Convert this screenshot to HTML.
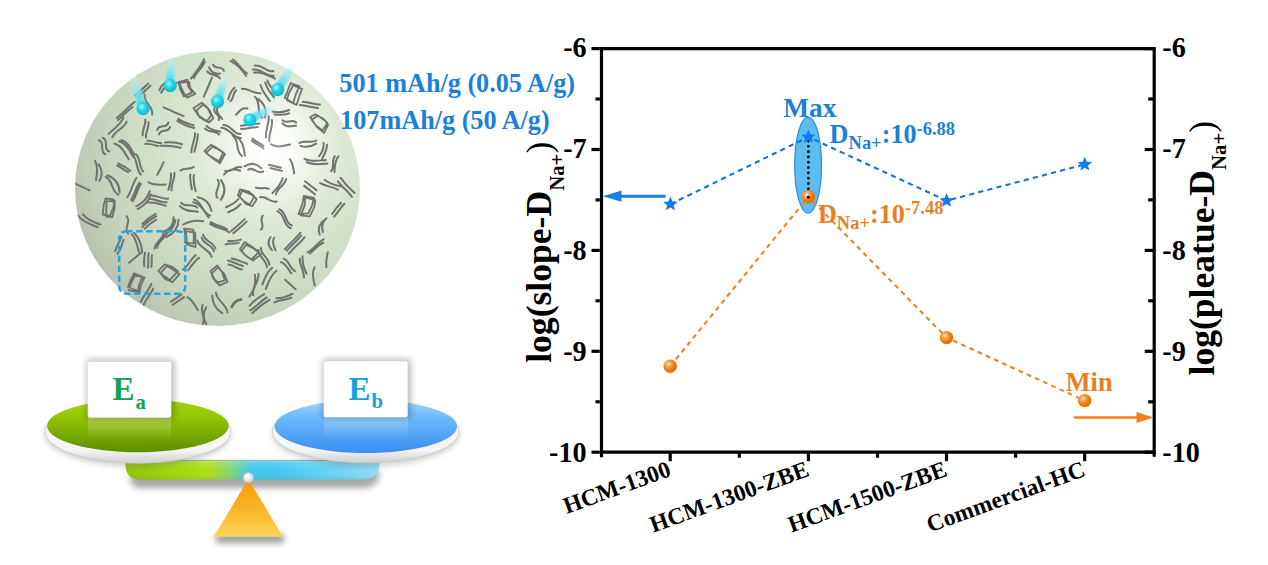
<!DOCTYPE html>
<html><head><meta charset="utf-8"><style>
html,body{margin:0;padding:0;background:#fff;}
body{width:1268px;height:565px;overflow:hidden;font-family:"Liberation Serif",serif;}
svg{display:block;}
</style></head><body>
<svg width="1268" height="565" viewBox="0 0 1268 565">
<defs>
<radialGradient id="sph" gradientUnits="userSpaceOnUse" cx="268" cy="150" r="232" fx="270" fy="147">
<stop offset="0" stop-color="#ffffff"/><stop offset="0.1" stop-color="#fbfdf9"/><stop offset="0.2" stop-color="#ebf3e5"/><stop offset="0.32" stop-color="#dde9d6"/><stop offset="0.5" stop-color="#d2e1ca"/><stop offset="0.7" stop-color="#c7d5bf"/><stop offset="0.88" stop-color="#b8c3af"/><stop offset="1" stop-color="#a8b2a0"/></radialGradient>
<radialGradient id="sphhl" gradientUnits="userSpaceOnUse" cx="268" cy="150" r="40"><stop offset="0" stop-color="#fff" stop-opacity="0.35"/><stop offset="0.4" stop-color="#fff" stop-opacity="0.12"/><stop offset="1" stop-color="#fff" stop-opacity="0"/></radialGradient>
<clipPath id="sphclip"><ellipse cx="217.5" cy="188.5" rx="142.5" ry="137.5"/></clipPath>
<radialGradient id="cyb" cx="0.4" cy="0.35" r="0.65"><stop offset="0" stop-color="#9ff6ff"/><stop offset="0.45" stop-color="#25d5e6"/><stop offset="1" stop-color="#10b8cf"/></radialGradient>
<radialGradient id="ob" cx="0.38" cy="0.35" r="0.7"><stop offset="0" stop-color="#fff3e0"/><stop offset="0.25" stop-color="#fba75a"/><stop offset="0.6" stop-color="#f07a12"/><stop offset="1" stop-color="#e06a08"/></radialGradient>
<linearGradient id="grg" x1="0" y1="0" x2="0" y2="1"><stop offset="0" stop-color="#a6d414"/><stop offset="0.3" stop-color="#96c804"/><stop offset="1" stop-color="#5c8e00"/></linearGradient>
<linearGradient id="blg" x1="0" y1="0" x2="0" y2="1"><stop offset="0" stop-color="#a2d8ff"/><stop offset="0.35" stop-color="#6ab8fb"/><stop offset="1" stop-color="#3a8ef0"/></linearGradient>
<linearGradient id="rim" x1="0" y1="0" x2="0" y2="1"><stop offset="0" stop-color="#ffffff"/><stop offset="0.8" stop-color="#f4f4f4"/><stop offset="1" stop-color="#cfcfcf"/></linearGradient>
<linearGradient id="refl" x1="0" y1="0" x2="0" y2="1"><stop offset="0" stop-color="#fff" stop-opacity="0.28"/><stop offset="1" stop-color="#fff" stop-opacity="0"/></linearGradient>
<linearGradient id="barg" gradientUnits="userSpaceOnUse" x1="126" y1="0" x2="379" y2="0"><stop offset="0" stop-color="#90c60e"/><stop offset="0.22" stop-color="#a4d80c"/><stop offset="0.33" stop-color="#aede1c"/><stop offset="0.41" stop-color="#84d870"/><stop offset="0.49" stop-color="#46c8ea"/><stop offset="0.6" stop-color="#44c8f2"/><stop offset="0.85" stop-color="#74d4f4"/><stop offset="1" stop-color="#98ddf6"/></linearGradient>
<linearGradient id="barv" x1="0" y1="0" x2="0" y2="1"><stop offset="0" stop-color="#fff" stop-opacity="0.5"/><stop offset="0.12" stop-color="#fff" stop-opacity="0.15"/><stop offset="0.5" stop-color="#fff" stop-opacity="0"/><stop offset="1" stop-color="#000" stop-opacity="0.06"/></linearGradient>
<linearGradient id="trig" x1="0" y1="0" x2="0" y2="1"><stop offset="0" stop-color="#f39c00"/><stop offset="0.5" stop-color="#f8b425"/><stop offset="1" stop-color="#ffd45a"/></linearGradient>
<radialGradient id="piv" cx="0.4" cy="0.35" r="0.7"><stop offset="0" stop-color="#ffffff"/><stop offset="1" stop-color="#cfcfcf"/></radialGradient>
<filter id="blur3" x="-20%" y="-50%" width="140%" height="200%"><feGaussianBlur stdDeviation="3"/></filter>
<filter id="blur1" x="-50%" y="-50%" width="200%" height="200%"><feGaussianBlur stdDeviation="1"/></filter>
<filter id="blur4" x="-30%" y="-30%" width="160%" height="160%"><feGaussianBlur stdDeviation="3.5"/></filter>
<filter id="blur2" x="-20%" y="-50%" width="140%" height="200%"><feGaussianBlur stdDeviation="2"/></filter>
</defs>
<rect width="1268" height="565" fill="#fff"/>
<ellipse cx="217.5" cy="188.5" rx="142.5" ry="137.5" fill="url(#sph)"/>
<g clip-path="url(#sphclip)" fill="none" stroke="#717170" stroke-width="2.0" stroke-linecap="round" stroke-linejoin="round"><path d="M204.9 61.7C202.6 68.0 196.3 71.7 194.0 78.0M204.0 59.2C200.9 66.5 195.7 72.4 191.0 78.6M213.0 64.6C214.9 69.6 221.9 65.6 223.8 70.7M209.1 67.3C211.1 72.3 214.7 74.4 220.0 73.4M207.3 71.3C209.9 76.7 217.4 73.1 219.9 78.4M232.7 59.6C238.8 62.8 240.8 70.1 246.9 73.3M230.6 61.0C237.1 64.7 242.3 69.7 246.1 76.0M254.9 65.6C262.1 64.0 266.2 72.7 273.4 71.0M253.0 69.6C260.9 68.2 265.8 77.1 273.7 75.7M254.2 72.6C262.1 71.2 268.4 75.6 275.0 78.7M150.5 85.8C146.3 89.7 142.0 93.6 137.7 97.5M148.4 83.6C144.0 87.6 139.7 91.6 135.3 95.6M176.9 83.1C169.6 83.0 164.4 86.2 161.2 92.7M173.2 81.7C166.6 81.1 161.9 83.9 159.4 90.1M211.8 77.8C209.3 84.1 206.6 90.5 203.9 96.7M236.2 90.4C232.2 92.8 234.4 98.7 230.4 101.1M234.5 87.8C230.4 90.4 229.8 95.0 228.3 99.1M241.9 88.8C248.6 88.2 253.8 93.9 260.5 93.3M267.4 80.6C268.6 86.4 274.8 89.3 275.9 95.2M265.2 82.4C266.4 88.4 270.5 92.7 274.0 97.4M260.6 85.1C262.0 91.4 266.3 96.0 269.9 101.0M132.6 107.0C127.4 111.0 122.8 115.6 118.0 120.1M134.7 101.8C128.4 106.8 123.1 112.9 116.8 117.9M144.7 94.6C143.1 102.7 153.7 106.4 152.1 114.5M163.7 107.3C170.3 110.3 177.0 113.2 183.6 116.1M217.8 106.1C215.0 111.9 219.4 115.1 222.2 119.0M214.6 108.2C211.7 113.6 221.6 114.6 218.7 120.0M247.5 108.5C241.6 106.9 239.3 111.6 236.0 114.8M258.4 99.1C264.6 103.8 266.8 110.0 265.1 117.6M254.8 96.8C261.4 102.4 255.9 112.3 262.4 117.9M289.0 113.3C284.2 115.5 279.2 114.7 274.2 114.6M289.1 110.0C283.7 112.3 278.2 112.8 272.5 111.5M302.8 101.8C308.6 102.2 314.2 104.1 320.0 104.5M299.9 105.1C306.1 105.6 312.0 107.5 318.1 108.0M126.7 121.8C123.6 128.6 115.3 130.5 112.3 137.3M123.4 117.9C120.3 124.8 114.1 128.9 108.7 133.7M148.5 122.1C149.3 127.6 145.2 132.3 146.0 137.7M145.2 119.8C146.0 125.3 141.9 129.9 142.7 135.4M170.0 126.9C169.1 133.4 160.0 128.0 159.0 134.5M168.3 122.5C167.3 129.0 158.2 123.7 157.1 130.2M178.2 118.9C182.8 122.3 188.3 123.6 193.6 125.4M177.4 120.9C182.5 124.4 188.2 126.7 194.3 127.9M206.5 125.9C210.1 130.2 215.4 130.5 220.3 131.7M205.1 128.6C208.7 133.0 215.4 130.1 219.0 134.5M223.5 125.1C231.0 124.6 233.1 134.5 240.6 134.0M221.1 127.7C229.5 127.6 232.5 138.0 240.9 137.9M257.6 127.1C252.1 127.4 246.6 128.7 241.1 129.0M259.4 123.6C253.2 124.1 247.0 124.8 240.9 125.8M271.9 119.9C273.3 127.3 268.0 134.0 269.4 141.4M268.6 116.2C269.9 123.5 264.7 130.1 266.1 137.5M282.4 120.2C286.3 124.8 292.2 118.0 296.1 122.6M282.5 123.4C286.3 128.0 291.3 126.1 296.0 125.8M102.8 137.8C109.4 140.3 102.5 149.0 109.1 151.5M99.0 140.3C105.6 142.8 98.7 151.6 105.3 154.1M121.2 140.0C128.5 142.2 130.8 148.9 134.3 154.5M119.2 141.3C126.9 143.9 129.6 151.0 133.5 157.0M114.4 143.5C122.1 146.1 124.8 153.1 128.7 159.2M147.4 140.7C152.2 140.4 156.5 143.3 161.3 143.0M145.2 143.9C149.7 143.6 153.8 145.0 158.1 146.0M165.1 142.6C170.9 142.0 176.6 142.5 182.1 144.3M160.3 145.8C167.2 145.3 174.0 145.9 180.7 147.8M197.8 134.3C197.8 140.3 195.9 146.0 194.4 151.7M195.1 133.3C195.0 139.8 191.4 145.7 191.4 152.3M236.6 137.0C243.7 141.2 243.5 148.8 245.0 155.6M232.6 135.3C240.1 140.3 234.6 151.0 242.0 156.0M252.7 138.6C255.7 142.0 260.5 142.8 263.5 146.2M251.9 140.5C255.2 144.1 260.2 145.0 263.5 148.6M270.8 144.2C277.2 148.5 283.7 145.6 290.2 144.5M316.2 143.6C311.3 146.9 306.0 147.6 300.4 145.9M316.3 140.5C311.0 143.8 304.7 139.7 299.4 143.0M327.0 144.8C327.0 150.3 324.1 154.8 321.9 159.4M323.6 143.1C323.8 148.1 322.2 152.5 319.0 156.3M98.6 164.2C102.3 169.5 102.6 175.1 99.5 180.8M95.0 160.8C98.7 167.0 96.7 173.6 96.1 180.1M118.3 163.4C122.6 165.5 126.6 167.9 130.4 170.7M117.2 165.5C121.1 167.4 124.4 170.3 128.3 172.2M136.1 154.4C141.3 158.9 138.1 166.9 143.3 171.4M132.6 154.9C138.2 160.3 135.4 169.2 140.9 174.6M163.6 162.1C161.8 166.5 159.4 170.6 157.2 174.8M193.6 166.9C189.8 170.1 184.3 167.4 180.5 170.5M240.1 170.8C234.0 168.4 228.6 169.6 224.1 174.4M241.2 167.3C235.1 164.9 231.4 173.3 225.3 170.9M244.5 166.3C250.6 162.5 256.2 163.1 261.3 168.3M248.1 169.7C253.6 165.7 257.6 175.4 263.1 171.4M268.9 164.7C272.9 165.7 276.9 166.7 280.9 167.7M270.6 168.1C274.4 169.0 278.2 170.0 282.0 170.9M290.0 159.3C293.2 163.4 293.3 168.4 294.1 173.3M304.5 158.8C311.5 162.2 318.7 160.5 325.9 160.0M306.6 162.2C313.4 165.6 320.5 163.9 327.5 163.4M338.4 156.3C334.4 161.0 334.9 166.7 334.4 172.1M334.9 156.2C331.0 160.5 335.1 166.8 331.2 171.2M75.0 183.3C79.7 185.9 84.7 187.9 89.4 190.4M107.4 175.3C115.2 178.3 119.3 184.0 119.6 192.3M105.8 177.0C113.7 180.2 110.5 191.4 118.5 194.6M140.9 183.9C137.1 189.1 136.6 195.9 132.8 201.1M139.2 182.9C135.4 188.1 134.9 194.8 131.1 200.0M136.5 177.8C132.4 183.7 131.5 191.2 127.4 197.2M148.6 182.4C154.0 185.7 160.0 184.7 165.8 184.6M174.4 172.7C175.4 178.9 170.6 184.2 171.6 190.4M170.8 173.6C171.9 179.3 169.7 184.5 168.3 189.9M193.9 175.0C193.3 180.5 193.9 185.9 195.7 191.1M190.3 174.4C189.7 179.5 191.0 184.5 191.9 189.5M221.1 180.1C225.6 186.7 225.5 193.3 220.8 199.8M217.7 179.9C222.2 186.0 212.9 191.9 217.4 198.0M255.9 187.6C260.1 189.1 264.6 187.2 268.8 188.7M286.1 179.0C285.0 185.7 277.0 187.7 275.9 194.4M282.6 177.9C281.5 184.5 276.6 188.5 272.5 193.1M305.0 181.3C308.8 184.3 312.7 187.1 316.5 190.1M304.2 185.9C307.8 188.8 311.5 191.5 315.1 194.3M324.7 180.0C329.6 183.3 335.1 185.4 341.0 186.2M320.2 183.1C325.6 186.6 332.4 186.2 337.7 189.7M340.7 177.9C344.7 183.5 349.3 188.5 354.5 193.1M337.9 181.3C342.1 187.0 347.9 191.1 352.0 196.8M150.7 194.5C148.4 201.2 144.1 206.0 137.7 209.0M149.7 191.4C147.3 198.2 142.8 203.2 136.3 206.3M150.4 195.6C156.7 194.6 161.9 199.5 168.2 198.6M149.4 199.2C155.5 198.3 160.7 203.1 166.8 202.2M147.7 202.6C154.1 201.7 159.9 204.1 165.9 205.8M181.3 202.8C185.4 208.0 192.9 202.6 197.1 207.7M179.9 206.1C184.8 211.5 191.6 210.9 197.9 211.7M197.6 197.2C205.4 198.6 210.0 203.1 211.4 210.9M193.9 199.5C202.6 201.6 201.6 213.5 210.2 215.6M193.2 202.3C201.5 204.1 204.3 211.4 208.5 217.4M240.4 204.1C237.4 208.4 232.6 210.0 228.2 212.3M238.4 199.0C235.3 203.4 230.4 205.0 225.9 207.3M260.1 197.3C266.4 195.6 270.3 203.3 276.7 201.5M344.3 203.8C340.5 207.7 338.0 212.7 334.2 216.6M341.0 202.7C337.7 206.1 334.8 209.8 332.3 213.8M83.0 214.3C87.0 220.6 94.0 222.0 100.3 224.5M78.0 215.5C82.8 222.3 90.5 224.1 97.6 227.1M126.6 216.2C132.0 221.7 122.7 228.4 128.2 233.8M156.1 219.8C151.8 222.1 148.0 225.1 144.7 228.7M156.2 216.2C151.0 219.1 146.4 222.8 142.2 227.1M155.5 213.8C150.6 216.5 146.3 219.9 142.5 224.0M178.6 219.7C178.1 228.0 174.0 233.8 166.3 237.0M175.3 220.0C174.9 228.0 168.5 231.7 163.6 236.4M173.6 217.2C173.7 224.5 170.3 229.4 163.3 231.7M203.2 221.3C196.2 219.9 189.5 221.0 183.3 224.5M210.7 222.0C215.5 225.8 222.2 225.5 227.0 229.2M210.1 223.9C215.9 228.1 223.5 228.2 229.3 232.4M246.6 221.6C242.4 225.7 237.8 229.5 233.3 233.3M244.7 219.1C240.4 223.3 235.9 227.3 231.3 231.1M262.8 215.7C258.7 220.0 265.3 225.5 261.1 229.8M279.2 209.2C286.9 211.9 284.2 222.8 291.9 225.5M277.5 211.4C285.4 214.2 282.7 225.3 290.6 228.2M326.4 218.2C322.2 222.1 321.1 226.7 323.0 232.1M323.1 220.9C318.9 224.7 317.8 229.2 319.7 234.6M123.5 239.7C122.4 244.8 120.4 249.6 117.5 253.9M121.2 236.7C120.1 241.9 116.3 245.8 115.2 251.0M134.1 232.7C139.2 238.4 141.9 245.1 142.1 252.7M131.7 234.1C136.5 239.0 137.2 245.7 138.8 251.9M166.1 232.2C166.0 239.1 157.2 241.2 157.1 248.1M163.5 232.7C163.4 239.6 154.7 241.7 154.6 248.7M203.1 234.8C204.7 241.6 213.7 241.8 215.4 248.6M201.7 237.7C203.4 244.4 212.4 244.7 214.0 251.4M197.3 240.6C199.6 248.1 209.3 249.1 211.6 256.7M238.7 242.9C234.5 244.5 229.8 242.7 225.6 244.4M240.8 239.6C236.7 241.2 232.4 240.9 228.2 241.1M274.2 237.8C271.1 242.4 274.1 246.4 275.6 250.5M270.5 237.0C267.4 241.8 267.9 246.1 272.0 250.1M304.5 237.3C299.8 243.2 293.7 247.7 289.0 253.7M301.2 235.6C296.9 241.1 291.1 245.2 286.9 250.7M300.5 232.7C295.8 238.7 289.6 243.3 284.9 249.2M323.4 242.7C318.2 245.3 314.3 249.6 310.1 253.5M323.6 239.4C317.5 242.7 313.8 249.1 307.7 252.4M140.5 253.2C136.8 256.5 132.8 259.5 129.1 262.8M152.0 255.1C151.1 259.0 152.3 263.1 151.3 267.0M148.7 253.3C147.6 258.1 148.8 263.1 147.8 267.9M145.1 252.8C144.1 257.2 143.8 261.7 144.3 266.2M199.0 257.9C194.4 261.1 191.5 265.8 188.2 270.2M195.6 255.4C190.4 259.2 188.3 265.8 183.1 269.6M231.6 258.4C237.2 259.3 242.2 261.8 247.3 264.0M227.9 260.5C233.3 261.4 237.7 265.0 243.0 265.9M228.5 264.6C233.4 265.2 237.2 268.7 242.0 269.4M260.9 248.1C260.8 255.1 269.3 257.8 269.2 264.8M258.2 249.9C258.3 257.1 266.9 260.1 266.9 267.4M283.9 258.7C289.5 261.3 289.6 268.8 295.2 271.3M281.1 262.1C286.3 264.3 288.4 269.2 291.3 273.5M302.5 256.2C302.3 262.4 303.7 268.2 306.5 273.7M299.7 258.5C299.6 265.2 304.1 270.8 304.0 277.5M327.8 252.3C326.5 257.1 326.0 262.1 326.4 267.1M258.4 273.7C259.6 281.6 251.7 287.3 253.0 295.2M254.9 274.8C256.1 282.8 254.3 290.1 249.4 296.6M276.4 270.8C270.4 275.4 268.6 282.4 265.8 288.9M272.1 267.9C266.4 271.9 264.9 278.5 262.4 284.4M285.1 279.8C288.6 282.9 292.1 286.2 295.6 289.3M314.6 267.2C311.1 273.2 313.6 279.3 314.7 285.4M153.1 288.6C151.0 294.7 145.7 299.0 143.7 305.1M151.3 283.9C149.0 290.5 143.3 295.3 141.0 301.9M184.0 297.1C180.3 299.8 176.4 302.1 172.8 304.8M181.5 294.4C178.1 297.0 174.4 299.1 171.0 301.7M187.3 297.1C192.7 299.8 194.9 305.3 197.8 310.1M216.0 292.5C216.6 301.1 226.9 304.0 227.5 312.5M212.3 295.8C212.4 303.4 215.7 309.2 222.2 313.1M241.5 299.8C236.9 300.6 233.8 303.1 232.0 307.4M241.1 298.9C236.4 299.8 233.1 302.5 231.3 306.8M269.5 299.8C263.1 303.4 257.3 307.9 252.3 313.3M266.8 297.5C260.6 300.8 256.5 306.9 250.4 310.3M264.3 294.2C258.6 297.2 253.7 301.0 249.4 305.8M291.4 297.6C286.1 300.4 279.7 299.4 274.4 302.3M292.3 293.8C287.3 296.6 282.0 298.1 276.3 298.3M206.1 307.2C202.9 312.9 203.0 318.7 206.3 324.3M202.7 304.9C199.5 311.3 206.1 317.7 202.9 324.1"/><path d="M192.2 92.4L183.8 96.4L180.2 89.1L178.3 82.1L187.5 79.7L188.2 86.4ZM195.3 93.9L186.9 97.6L183.4 92.2L179.1 82.9L189.1 81.8L190.1 87.9ZM211.2 115.5L206.8 121.1L198.6 115.8L193.5 108.2L201.7 102.7L207.4 107.4ZM213.4 118.4L208.8 122.5L199.8 117.5L196.4 110.7L203.2 104.5L209.5 110.2ZM223.3 152.4L219.1 161.4L210.4 156.4L204.4 151.1L210.8 144.9L216.0 147.4ZM225.0 154.0L219.9 163.2L213.4 158.7L205.9 152.9L212.8 146.6L218.0 149.3ZM293.1 103.2L284.6 97.6L287.3 91.8L290.6 83.0L299.5 86.4L296.1 93.5ZM296.6 104.9L286.8 100.3L288.7 93.8L293.0 85.5L302.1 88.8L299.5 95.8ZM327.5 123.1L322.5 130.5L315.5 125.1L310.2 117.3L315.1 114.3L322.9 118.5ZM328.0 125.0L324.1 132.9L317.3 127.3L311.6 119.8L317.9 115.8L324.8 120.2ZM109.9 216.0L102.7 214.5L103.7 204.7L105.5 198.5L113.6 199.3L113.8 206.0ZM112.3 217.0L106.1 216.7L106.4 207.3L106.5 201.4L114.8 200.9L114.6 208.0ZM193.5 243.7L184.6 242.4L185.7 237.1L184.1 228.7L193.3 229.6L193.8 237.1ZM195.6 247.1L186.5 244.4L186.7 239.4L185.8 231.1L195.2 232.7L195.5 239.8ZM177.8 271.1L170.0 279.9L164.0 276.1L158.3 270.8L164.8 264.4L172.8 267.2ZM179.5 274.1L172.5 282.1L165.2 278.9L160.5 273.1L167.1 265.9L173.9 270.3ZM137.9 291.0L128.0 287.0L130.2 281.0L134.1 273.3L142.6 276.8L139.4 283.7ZM139.5 292.6L128.6 290.0L131.3 282.7L135.0 275.6L144.5 277.3L140.7 286.0ZM254.4 196.5L249.7 204.6L244.0 201.2L238.0 195.5L239.8 189.3L249.0 191.7ZM256.8 199.1L252.3 206.2L246.1 204.1L239.6 196.6L242.0 190.6L251.1 194.3ZM308.3 213.3L298.5 214.1L302.5 203.8L303.8 195.8L314.1 198.0L311.9 205.8ZM309.8 216.3L300.7 215.4L304.7 205.3L305.2 197.3L315.3 200.1L314.3 207.2ZM258.7 252.1L251.5 259.5L244.9 254.9L240.0 249.4L244.6 242.1L251.8 246.4ZM261.0 254.4L253.0 260.5L246.7 256.5L241.8 251.1L246.0 244.7L253.3 248.3ZM224.8 280.3L218.1 282.3L213.1 278.5L210.6 270.9L217.4 265.4L222.1 272.3ZM227.6 282.0L219.6 285.3L215.6 281.4L211.7 273.3L218.0 267.3L224.2 273.9Z" stroke-width="1.8"/></g>
<ellipse cx="217.5" cy="188.5" rx="142.5" ry="137.5" fill="url(#sphhl)"/>
<rect x="119.2" y="231.2" width="66" height="62.5" rx="7" fill="none" stroke="#2aa5e2" stroke-width="2.5" stroke-dasharray="6.5 3.5"/>
<linearGradient id="tr0" gradientUnits="userSpaceOnUse" x1="143.0" y1="108.7" x2="132.0" y2="75.0"><stop offset="0" stop-color="#2ed5e8"/><stop offset="0.5" stop-color="#7ee6f2" stop-opacity="0.85"/><stop offset="1" stop-color="#d8f8fc" stop-opacity="0.2"/></linearGradient>
<path d="M147.2 107.3 L135.0 74.0 L129.0 76.0 L138.8 110.1 Z" fill="url(#tr0)" filter="url(#blur1)"/>
<circle cx="143.0" cy="108.7" r="6.6" fill="url(#cyb)"/>
<linearGradient id="tr1" gradientUnits="userSpaceOnUse" x1="170.2" y1="85.6" x2="171.0" y2="55.4"><stop offset="0" stop-color="#2ed5e8"/><stop offset="0.5" stop-color="#7ee6f2" stop-opacity="0.85"/><stop offset="1" stop-color="#d8f8fc" stop-opacity="0.2"/></linearGradient>
<path d="M174.6 85.7 L174.2 55.5 L167.8 55.3 L165.8 85.5 Z" fill="url(#tr1)" filter="url(#blur1)"/>
<circle cx="170.2" cy="85.6" r="6.6" fill="url(#cyb)"/>
<linearGradient id="tr2" gradientUnits="userSpaceOnUse" x1="217.5" y1="101.5" x2="226.0" y2="75.0"><stop offset="0" stop-color="#2ed5e8"/><stop offset="0.5" stop-color="#7ee6f2" stop-opacity="0.85"/><stop offset="1" stop-color="#d8f8fc" stop-opacity="0.2"/></linearGradient>
<path d="M221.7 102.8 L229.0 76.0 L223.0 74.0 L213.3 100.2 Z" fill="url(#tr2)" filter="url(#blur1)"/>
<circle cx="217.5" cy="101.5" r="6.6" fill="url(#cyb)"/>
<linearGradient id="tr3" gradientUnits="userSpaceOnUse" x1="277.6" y1="89.6" x2="293.6" y2="64.0"><stop offset="0" stop-color="#2ed5e8"/><stop offset="0.5" stop-color="#7ee6f2" stop-opacity="0.85"/><stop offset="1" stop-color="#d8f8fc" stop-opacity="0.2"/></linearGradient>
<path d="M281.3 91.9 L296.3 65.7 L290.9 62.3 L273.9 87.3 Z" fill="url(#tr3)" filter="url(#blur1)"/>
<circle cx="277.6" cy="89.6" r="6.6" fill="url(#cyb)"/>
<linearGradient id="tr4" gradientUnits="userSpaceOnUse" x1="249.8" y1="119.8" x2="276.8" y2="105.5"><stop offset="0" stop-color="#2ed5e8"/><stop offset="0.5" stop-color="#7ee6f2" stop-opacity="0.85"/><stop offset="1" stop-color="#d8f8fc" stop-opacity="0.2"/></linearGradient>
<path d="M251.9 123.7 L278.3 108.3 L275.3 102.7 L247.7 115.9 Z" fill="url(#tr4)" filter="url(#blur1)"/>
<circle cx="249.8" cy="119.8" r="6.6" fill="url(#cyb)"/>
<g font-family="Liberation Serif" font-weight="bold" font-size="26.2" fill="#1a7fdd"><text transform="translate(339.3 91.8) scale(1 1.05)">501 mAh/g (0.05 A/g)</text><text transform="translate(340.1 128.7) scale(1 1.05)">107mAh/g (50 A/g)</text></g>
<path d="M134 468 H372 Q381 468 379 477 Q376 488 362 488 H142 Q130 488 130 479 Z" fill="#000" opacity="0.34" filter="url(#blur3)"/>
<rect x="216" y="534" width="68" height="9" fill="#000" opacity="0.4" filter="url(#blur3)"/>
<path d="M125.5 460 H379.5 V463 Q379.5 479.5 362 479.5 H141 Q125.5 479.5 125.5 465 Z" fill="url(#barg)"/>
<path d="M125.5 460 H379.5 V463 Q379.5 479.5 362 479.5 H141 Q125.5 479.5 125.5 465 Z" fill="url(#barv)"/>
<path d="M150 460.3 H360" stroke="#7a7a7a" stroke-width="1" opacity="0.55"/>
<path d="M248.3 479 L283 536.8 L213.8 536.8 Z" fill="url(#trig)"/>
<circle cx="248.3" cy="477.8" r="5.2" fill="url(#piv)" stroke="#b8b8b8" stroke-width="0.8"/>
<ellipse cx="137.9" cy="434.4" rx="92.8" ry="31.8" fill="#000" opacity="0.2" filter="url(#blur3)"/>
<ellipse cx="137.9" cy="431.4" rx="92.8" ry="31.8" fill="url(#rim)" stroke="#c8c8c8" stroke-width="0.8"/>
<ellipse cx="137.9" cy="425.9" rx="90.8" ry="26.4" fill="url(#grg)"/>
<ellipse cx="365.8" cy="434.4" rx="93.2" ry="31.4" fill="#000" opacity="0.2" filter="url(#blur3)"/>
<ellipse cx="365.8" cy="431.4" rx="93.2" ry="31.4" fill="url(#rim)" stroke="#c8c8c8" stroke-width="0.8"/>
<ellipse cx="365.8" cy="426.5" rx="91.2" ry="26.5" fill="url(#blg)"/>
<rect x="88" y="418" width="83" height="22" fill="url(#refl)"/>
<rect x="324" y="417" width="84" height="22" fill="url(#refl)"/>
<rect x="86.7" y="359.8" width="87.6" height="59.0" rx="2" fill="#000" opacity="0.28" filter="url(#blur4)"/>
<rect x="87.7" y="361.8" width="83.6" height="56.0" rx="2" fill="#fff"/>
<rect x="322.7" y="359.3" width="88.0" height="59.0" rx="2" fill="#000" opacity="0.28" filter="url(#blur4)"/>
<rect x="323.7" y="361.3" width="84.0" height="56.0" rx="2" fill="#fff"/>
<text x="112.6" y="400.3" font-family="Liberation Serif" font-weight="bold" font-size="33" fill="#12a352">E<tspan font-size="20.7" dx="0.8" dy="8.5">a</tspan></text>
<text x="348.4" y="399.6" font-family="Liberation Serif" font-weight="bold" font-size="33" fill="#18a0de">E<tspan font-size="20.7" dx="1" dy="8.4">b</tspan></text>
<g stroke="#000" stroke-width="3.2" fill="none" stroke-linecap="butt">
<path d="M601.5 48.6 H1154.2 V452.2 H601.5 Z"/>
<path d="M599.8 48.6 H591.5"/>
<path d="M599.8 99.0 H595.5"/>
<path d="M599.8 149.5 H591.5"/>
<path d="M599.8 199.9 H595.5"/>
<path d="M599.8 250.4 H591.5"/>
<path d="M599.8 300.8 H595.5"/>
<path d="M599.8 351.3 H591.5"/>
<path d="M599.8 401.8 H595.5"/>
<path d="M599.8 452.2 H591.5"/>
<path d="M1154.2 48.6 H1144.7"/>
<path d="M1154.2 99.0 H1148.2"/>
<path d="M1154.2 149.5 H1144.7"/>
<path d="M1154.2 199.9 H1148.2"/>
<path d="M1154.2 250.4 H1144.7"/>
<path d="M1154.2 300.8 H1148.2"/>
<path d="M1154.2 351.3 H1144.7"/>
<path d="M1154.2 401.8 H1148.2"/>
<path d="M1154.2 452.2 H1144.7"/>
<path d="M670.2 452.2 V461.2"/>
<path d="M808.4 452.2 V461.2"/>
<path d="M946.5 452.2 V461.2"/>
<path d="M1084.7 452.2 V461.2"/>
<path d="M739.3 452.2 V457.7"/>
<path d="M877.5 452.2 V457.7"/>
<path d="M1015.6 452.2 V457.7"/>
<path d="M601.5 452.2 V457.2 M1154.2 452.2 V456.7"/>
</g>
<g font-family="Liberation Serif" font-weight="bold" font-size="29.5" fill="#000">
<text transform="translate(586.6 57.0) scale(0.955 1)" text-anchor="end">-6</text>
<text transform="translate(1162.3 57.0) scale(0.955 1)">-6</text>
<text transform="translate(586.6 158.3) scale(0.955 1)" text-anchor="end">-7</text>
<text transform="translate(1162.3 158.3) scale(0.955 1)">-7</text>
<text transform="translate(586.6 259.6) scale(0.955 1)" text-anchor="end">-8</text>
<text transform="translate(1162.3 259.6) scale(0.955 1)">-8</text>
<text transform="translate(586.6 360.9) scale(0.955 1)" text-anchor="end">-9</text>
<text transform="translate(1162.3 360.9) scale(0.955 1)">-9</text>
<text transform="translate(586.6 462.2) scale(0.955 1)" text-anchor="end">-10</text>
<text transform="translate(1162.3 462.2) scale(0.955 1)">-10</text>
</g>
<g font-family="Liberation Serif" font-weight="bold" font-size="23.5" fill="#000" text-anchor="end">
<text transform="translate(672.2 475.5) rotate(-20)">HCM-1300</text>
<text transform="translate(810.4 475.5) rotate(-20)">HCM-1300-ZBE</text>
<text transform="translate(948.5 475.5) rotate(-20)">HCM-1500-ZBE</text>
<text transform="translate(1086.7 475.5) rotate(-20)">Commercial-HC</text>
</g>
<text transform="translate(551 362.8) rotate(-90)" font-family="Liberation Serif" font-weight="bold" font-size="35.6" fill="#000">log(slope-D<tspan font-size="20.8" dy="12.8">Na+</tspan><tspan font-weight="normal" dy="-12.8">)</tspan></text>
<text transform="translate(1213.5 375.5) rotate(-90)" font-family="Liberation Serif" font-weight="bold" font-size="35.6" fill="#000">log(pleatue-D<tspan font-size="20.8" dy="12.8">Na+</tspan><tspan font-weight="normal" dy="-12.8">)</tspan></text>
<ellipse cx="808.1" cy="165.2" rx="13.4" ry="48" fill="#5bbdf0" stroke="#2b8ce0" stroke-width="1.2"/>
<polyline points="670.4,204.2 808.4,137.0 946.6,200.7 1084.8,164.4" fill="none" stroke="#1a70d8" stroke-width="2.1" stroke-dasharray="5.2 4.2"/>
<polyline points="670.2,366.2 808.4,196.8 946.5,337.6 1084.6,400.6" fill="none" stroke="#e8842a" stroke-width="2.1" stroke-dasharray="4.8 4.2"/>
<line x1="808.4" y1="141" x2="808.4" y2="199" stroke="#000" stroke-width="2.8" stroke-dasharray="0.01 5.3" stroke-linecap="round"/>
<path d="M670.4 196.6 L672.4 201.5 L677.6 201.9 L673.6 205.2 L674.9 210.3 L670.4 207.5 L665.9 210.3 L667.2 205.2 L663.2 201.9 L668.4 201.5Z" fill="#0f7bf0"/>
<path d="M808.4 129.4 L810.4 134.3 L815.6 134.7 L811.6 138.0 L812.9 143.1 L808.4 140.3 L803.9 143.1 L805.2 138.0 L801.2 134.7 L806.4 134.3Z" fill="#0f7bf0"/>
<path d="M946.6 193.1 L948.6 198.0 L953.8 198.4 L949.8 201.7 L951.1 206.8 L946.6 204.0 L942.1 206.8 L943.4 201.7 L939.4 198.4 L944.6 198.0Z" fill="#0f7bf0"/>
<path d="M1084.8 156.8 L1086.8 161.7 L1092.0 162.1 L1088.0 165.4 L1089.3 170.5 L1084.8 167.8 L1080.3 170.5 L1081.6 165.4 L1077.6 162.1 L1082.8 161.7Z" fill="#0f7bf0"/>
<circle cx="670.2" cy="366.2" r="6.7" fill="url(#ob)"/>
<circle cx="808.4" cy="196.8" r="6.7" fill="url(#ob)"/>
<circle cx="946.5" cy="337.6" r="6.7" fill="url(#ob)"/>
<circle cx="1084.6" cy="400.6" r="6.7" fill="url(#ob)"/>
<circle cx="808.4" cy="197.2" r="1.5" fill="#000"/>
<path d="M665.5 196.2 H618" stroke="#1a7fe6" stroke-width="3" fill="none"/><path d="M602.8 196.2 L621.5 190.6 L621.5 201.8 Z" fill="#1a7fe6"/>
<path d="M1073.8 417.5 H1140" stroke="#f28018" stroke-width="2.7" fill="none"/><path d="M1153.4 417.5 L1136.5 412.1 L1136.5 422.9 Z" fill="#f28018"/>
<text transform="translate(783.2 116.7) scale(1 1.03)" font-family="Liberation Serif" font-weight="bold" font-size="27.4" fill="#1a80d8">Max</text>
<text transform="translate(829.6 142.6) scale(1 1.050)" font-family="Liberation Serif" font-weight="bold" font-size="26.2" fill="#1a80d8">D<tspan font-size="18.5" dy="6.29">Na+</tspan><tspan dy="-6.29">:10</tspan><tspan font-size="18.5" dy="-7.33">-6.88</tspan></text>
<text transform="translate(1065.8 390.8) scale(1 1.05)" font-family="Liberation Serif" font-weight="bold" font-size="26.3" fill="#e8801e">Min</text>
<text transform="translate(817.9 222.6) scale(1 1.050)" font-family="Liberation Serif" font-weight="bold" font-size="26.2" fill="#e8801e">D<tspan font-size="18.5" dy="5.81">Na+</tspan><tspan dy="-5.81">:10</tspan><tspan font-size="18.5" dy="-7.90">-7.48</tspan></text>
</svg>
</body></html>
